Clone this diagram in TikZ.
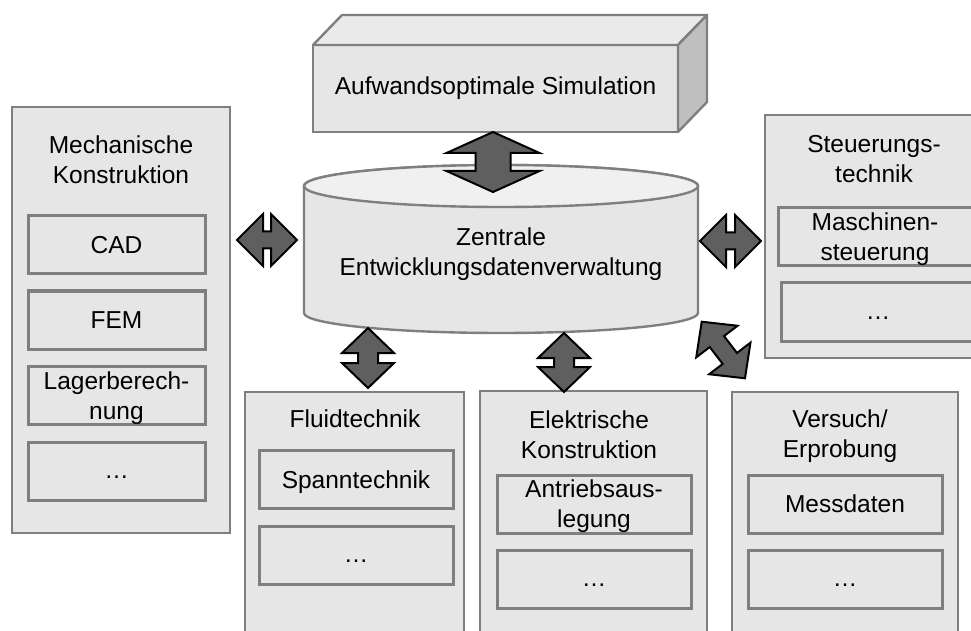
\documentclass[tikz,border=0pt]{standalone}
\usepackage{fontspec}
\setmainfont{Liberation Sans}
\usetikzlibrary{calc}

\definecolor{boxfill}{HTML}{E6E6E6}
\definecolor{boxline}{HTML}{7F7F7F}
\definecolor{cyltop}{HTML}{F0F0F0}
\definecolor{simtop}{HTML}{EAEAEA}
\definecolor{simside}{HTML}{BFBFBF}
\definecolor{arrowfill}{HTML}{5F5F5F}

\tikzset{
	outerbox/.style={draw=boxline, fill=boxfill, line width=2.4pt, outer sep=0pt, inner sep=0pt},
	innerbox/.style={draw=boxline, fill=boxfill, line width=3pt, outer sep=0pt, inner sep=0pt,
		minimum width=194pt, minimum height=58pt, align=center, text depth=0pt},
	dotsbox/.style={innerbox, text height=14pt},
	titletext/.style={align=center, text depth=0pt},
	blockarrow/.style={draw=black, fill=arrowfill, line width=2pt, line join=miter},
}

\newcommand{\blockarrow}[5]{
	\coordinate (ha) at ($(#1)!#3!(#2)$);
	\coordinate (hb) at ($(#2)!#3!(#1)$);
	\filldraw[blockarrow] (#1) -- ($(ha)!#4!90:(#2)$) -- ($(ha)!#5!90:(#2)$) -- ($(hb)!#5!-90:(#1)$)
		-- ($(hb)!#4!-90:(#1)$) -- (#2) -- ($(hb)!#4!90:(#1)$) -- ($(hb)!#5!90:(#1)$)
		-- ($(ha)!#5!-90:(#2)$) -- ($(ha)!#4!-90:(#2)$) -- cycle;
}

\begin{document}
\begin{tikzpicture}[x=1pt,y=1pt,font=\fontsize{24.5pt}{30pt}\selectfont]
	\useasboundingbox (0,0) rectangle (971,630);
	\clip (0,0) rectangle (971,630);

	\node[outerbox, minimum width=365pt, minimum height=87pt] (sim) at (495.5,541.5) {Aufwandsoptimale Simulation};
	\filldraw[draw=boxline, fill=simtop, line width=2.4pt, line join=round] (sim.north west) -- ++(29,30) -- ++(365,0) -- (sim.north east) -- cycle;
	\filldraw[draw=boxline, fill=simside, line width=2.4pt, line join=round] (sim.north east) -- ++(29,30) -- ++(0,-87) -- (sim.south east) -- cycle;

	\filldraw[draw=boxline, fill=boxfill, line width=2.4pt] (304,444) -- (304,317) arc[start angle=180, end angle=360, x radius=197, y radius=20] -- (698,444) arc[start angle=0, end angle=180, x radius=197, y radius=21] -- cycle;
	\filldraw[draw=boxline, fill=cyltop, line width=2.4pt] (501,444) ellipse[x radius=197, y radius=21];
	\node[titletext] (zentrale) at (501,378) {Zentrale\\Entwicklungsdatenverwaltung};

	\node[outerbox, minimum width=218pt, minimum height=426pt] (mech) at (121,310) {};
	\node[titletext] (mechtitle) at (121,470.5) {Mechanische\\Konstruktion};
	\node[innerbox, minimum width=177pt] (cad) at (116.5,385) {CAD};
	\node[innerbox, minimum width=177pt] (fem) at (116.5,310) {FEM};
	\node[innerbox, minimum width=177pt] (lager) at (116.5,234.5) {Lagerberech-\\nung};
	\node[dotsbox, minimum width=177pt] (mechdots) at (116.5,159) {…};

	\node[outerbox, minimum width=218pt, minimum height=243pt] (steuer) at (874,393.5) {};
	\node[titletext] (steuertitle) at (874,471) {Steuerungs-\\technik};
	\node[innerbox] (maschine) at (875,393) {Maschinen-\\steuerung};
	\node[dotsbox] (steuerdots) at (878,318) {…};

	\node[outerbox, minimum width=219pt, minimum height=260pt] (fluid) at (354.5,108) {};
	\node[titletext] (fluidtitle) at (355,211) {Fluidtechnik};
	\node[innerbox] (spann) at (356,150.5) {Spanntechnik};
	\node[dotsbox] (fluiddots) at (356,75) {…};

	\node[outerbox, minimum width=227pt, minimum height=260pt] (elek) at (593.5,109) {};
	\node[titletext] (elektitle) at (589,195.5) {Elektrische\\Konstruktion};
	\node[innerbox] (antrieb) at (594,126) {Antriebsaus-\\legung};
	\node[dotsbox] (elekdots) at (594,50.5) {…};

	\node[outerbox, minimum width=226pt, minimum height=260pt] (versuch) at (845,108) {};
	\node[titletext] (versuchtitle) at (840,196) {Versuch/\\Erprobung};
	\node[innerbox] (mess) at (845,126) {Messdaten};
	\node[dotsbox] (versuchdots) at (845,51) {…};

	\coordinate (simtip) at (493,498);
	\coordinate (simend) at (493,438);
	\coordinate (mechtip) at (237,390);
	\coordinate (mechend) at (297,390);
	\coordinate (steuertip) at (700,389);
	\coordinate (steuerend) at (761,389);
	\coordinate (fluidtip) at (368,302);
	\coordinate (fluidend) at (368,242);
	\coordinate (elektip) at (564,297);
	\coordinate (elekend) at (564,238);
	\coordinate (versuchtip) at (701.7,308.3);
	\coordinate (versuchend) at (745,251.7);

	\blockarrow{simtip}{simend}{21pt}{46.5pt}{17.5pt}
	\blockarrow{mechtip}{mechend}{26pt}{26pt}{8.5pt}
	\blockarrow{steuertip}{steuerend}{26pt}{26pt}{8.5pt}
	\blockarrow{fluidtip}{fluidend}{25pt}{26pt}{10pt}
	\blockarrow{elektip}{elekend}{25pt}{26pt}{10pt}
	\blockarrow{versuchtip}{versuchend}{25pt}{26pt}{9pt}
\end{tikzpicture}
\end{document}
